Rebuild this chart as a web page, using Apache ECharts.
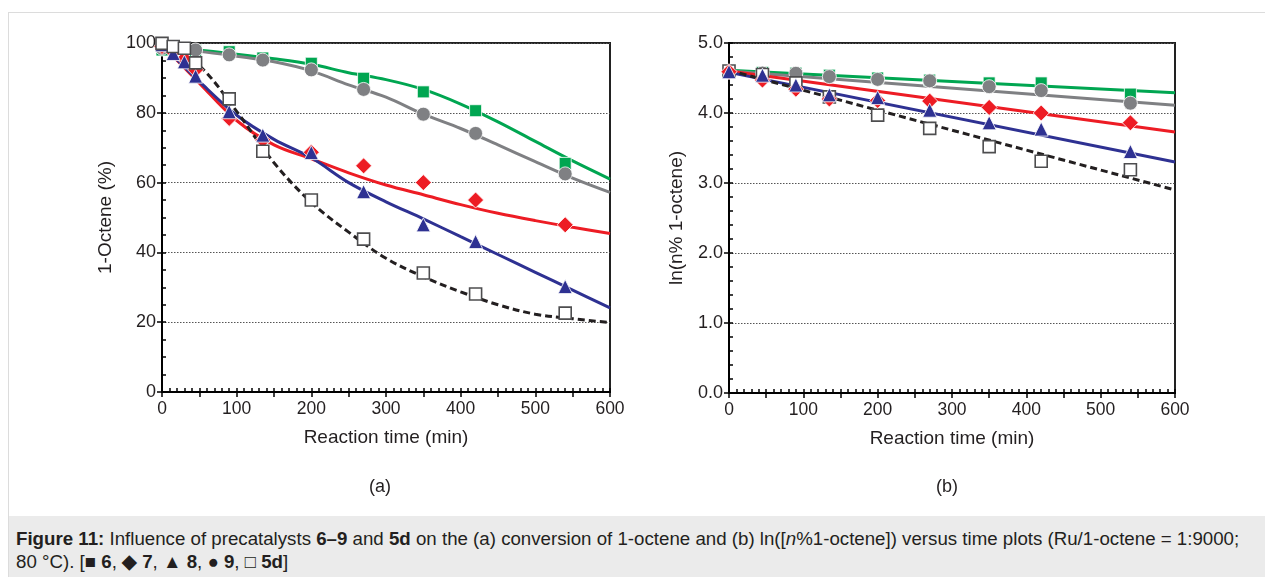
<!DOCTYPE html>
<html>
<head>
<meta charset="utf-8">
<script src="https://cdn.jsdelivr.net/npm/echarts@6/dist/echarts.min.js"></script>
<style>
  html, body { margin: 0; padding: 0; background: #ffffff; }
  #frame { position: absolute; left: 8px; top: 12px; width: 1270px; height: 570px; border: 1px solid #dcdcdc; box-sizing: border-box; }
  #chart { position: absolute; left: 0; top: 0; width: 1265px; height: 577px; }
  #caption { position: absolute; left: 9px; top: 516px; width: 1260px; height: 70px; background: #ebebeb;
    font-family: "Liberation Sans", Arial, sans-serif; font-size: 18.7px; color: #231f20; line-height: 23px;
    padding: 11px 0 0 7px; box-sizing: border-box; white-space: nowrap; }
</style>
</head>
<body>
<div id="frame"></div>
<div id="chart"></div>
<div id="caption"><b>Figure 11:</b> Influence of precatalysts <b>6–9</b> and <b>5d</b> on the (a) conversion of 1-octene and (b) ln([<i>n</i>%1-octene]) versus time plots (Ru/1-octene = 1:9000;<br>80 °C). [<b>■ 6</b>, <b>◆ 7</b>, <b>▲ 8</b>, <b>● 9</b>, <b>□ 5d</b>]</div>
<script>
// ---------- (a) conversion data ----------
const timesA = [0, 15, 30, 45, 90, 135, 200, 270, 350, 420, 540];
const a_cat6  = [98.0, null, null, 97.8, 97.5, 95.7, 94.2, 89.9, 86.0, 80.6, 65.5];
const a_cat7  = [99.0, 97.5, 95.5, 92.3, 78.4, 72.2, 68.7, 64.8, 60.0, 55.0, 47.9];
const a_cat8  = [99.5, 97.0, 94.6, 90.5, 80.3, 73.6, 68.6, 57.4, 47.9, 43.1, 30.2];
const a_cat9  = [98.5, null, null, 98.0, 96.6, 95.1, 92.3, 86.7, 79.6, 74.1, 62.5];
const a_cat5d = [99.9, 99.0, 98.5, 94.3, 84.0, 69.0, 55.0, 43.8, 34.1, 28.1, 22.6];

// fitted curves
const curveT = [0, 50, 100, 150, 200, 250, 300, 350, 400, 450, 500, 550, 600];
const a_fit6  = [98.5, 97.9, 96.8, 95.5, 93.9, 91.5, 89.5, 86.7, 82.5, 77.4, 71.8, 66.2, 61.0];
const a_fit7  = [99.5, 88.5, 77.8, 70.8, 66.8, 62.8, 59.3, 56.5, 53.7, 51.2, 49.1, 47.2, 45.4];
const a_fit8  = [99.5, 89.0, 79.3, 72.4, 67.1, 60.0, 54.5, 49.6, 44.5, 39.4, 34.3, 29.2, 24.1];
const a_fit9  = [98.5, 97.6, 96.2, 94.6, 92.0, 88.0, 84.5, 79.6, 75.5, 70.8, 66.0, 61.3, 57.2];
const a_fit5d = [100.0, 93.5, 80.4, 65.7, 54.3, 45.8, 38.3, 33.0, 28.7, 25.0, 22.3, 21.0, 19.9];

// ---------- (b) ln data ----------
const timesB = [0, 45, 90, 135, 200, 270, 350, 420, 540];
const b_cat6  = [4.60, 4.58, 4.57, 4.54, 4.50, 4.47, 4.43, 4.43, 4.27];
const b_cat7  = [4.59, 4.47, 4.34, 4.20, 4.18, 4.17, 4.08, 4.00, 3.86];
const b_cat8  = [4.59, 4.54, 4.40, 4.26, 4.22, 4.04, 3.86, 3.77, 3.45];
const b_cat9  = [4.59, 4.57, 4.567, 4.52, 4.48, 4.46, 4.376, 4.32, 4.14];
const b_cat5d = [4.60, 4.55, 4.43, 4.23, 3.97, 3.78, 3.52, 3.31, 3.19];

const lineT = [0, 600];
const b_fit6  = [4.61, 4.29];
const b_fit7  = [4.60, 3.73];
const b_fit8  = [4.58, 3.30];
const b_fit9  = [4.60, 4.11];
const b_fit5d = [4.61, 2.90];

const yTicksA = [0, 20, 40, 60, 80, 100];
const yTicksB = ['0.0', '1.0', '2.0', '3.0', '4.0', '5.0'];
const xTicks = [0, 100, 200, 300, 400, 500, 600];

// ---------- styling ----------
const GREEN = '#00a651', RED = '#ed1c24', BLUE = '#2e3192', GRAY = '#7f8083', BLACK = '#231f20';
const FONT = '"Liberation Sans", Arial, sans-serif';

function pairs(t, v) { const out = []; for (let i = 0; i < t.length; i++) if (v[i] !== null) out.push([t[i], v[i]]); return out; }

function curve(idx, t, v, color, dashed, smooth) {
  return { type: 'line', xAxisIndex: idx, yAxisIndex: idx, data: pairs(t, v), showSymbol: false, symbol: 'none',
    smooth: smooth ? 0.35 : false, silent: true, z: 2,
    lineStyle: { color: color, width: 3, type: dashed ? [7, 4] : 'solid', cap: 'butt' } };
}
function marks(idx, t, v, symbol, size, color, open, z) {
  return { type: 'scatter', xAxisIndex: idx, yAxisIndex: idx, data: pairs(t, v), symbol: symbol, symbolSize: size, z: z,
    itemStyle: open ? { color: '#ffffff', borderColor: '#4d4d4f', borderWidth: 1.6, opacity: 1 }
                    : { color: color, borderColor: '#ffffff', borderWidth: 0.8, opacity: 1 } };
}

const TICK = { color: '#000', width: 1.5 };
function xAxisMain(idx) {
  return { type: 'value', gridIndex: idx, position: 'bottom', min: 0, max: 600, interval: 50,
    name: 'Reaction time (min)', nameLocation: 'middle', nameGap: 36,
    nameTextStyle: { fontFamily: FONT, fontSize: 19, color: BLACK },
    axisLine: { show: true, onZero: false, lineStyle: { color: '#000', width: 2 } },
    axisTick: { show: true, inside: false, length: 5, lineStyle: TICK },
    minorTick: { show: false },
    axisLabel: { fontFamily: FONT, fontSize: 17.5, color: BLACK, margin: 8, formatter: v => xTicks.indexOf(v) >= 0 ? String(v) : '' },
    splitLine: { show: false } };
}
function xAxisInner(idx) {
  return { type: 'value', gridIndex: idx, position: 'bottom', min: 0, max: 600, interval: 50,
    axisLine: { show: false, onZero: false }, axisLabel: { show: false }, splitLine: { show: false },
    axisTick: { show: true, inside: true, length: 4, lineStyle: TICK },
    minorTick: { show: true, splitNumber: 5, length: 4, lineStyle: TICK } };
}
function yAxisInner(idx, max, interval, split) {
  return { type: 'value', gridIndex: idx, position: 'left', min: 0, max: max, interval: interval,
    axisLine: { show: false, onZero: false }, axisLabel: { show: false }, splitLine: { show: false },
    axisTick: { show: true, inside: true, length: 4, lineStyle: TICK },
    minorTick: { show: true, splitNumber: split, length: 4, lineStyle: TICK } };
}

const option = {
  animation: false,
  backgroundColor: 'transparent',
  title: [
    { text: '(a)', left: 375, top: 473, textAlign: 'center', textStyle: { fontFamily: FONT, fontSize: 18, fontWeight: 'normal', color: BLACK } },
    { text: '(b)', left: 942, top: 473, textAlign: 'center', textStyle: { fontFamily: FONT, fontSize: 18, fontWeight: 'normal', color: BLACK } }
  ],
  grid: [
    { left: 162, top: 43, width: 448, height: 349, show: true, borderColor: '#222', borderWidth: 2, backgroundColor: 'transparent' },
    { left: 729, top: 43, width: 446, height: 350, show: true, borderColor: '#222', borderWidth: 2, backgroundColor: 'transparent' }
  ],
  xAxis: [xAxisMain(0), xAxisMain(1), xAxisInner(0), xAxisInner(1)],
  yAxis: [
    { type: 'value', gridIndex: 0, position: 'left', min: 0, max: 100, interval: 20,
      name: '1-Octene (%)', nameLocation: 'middle', nameGap: 47, nameRotate: 90,
      nameTextStyle: { fontFamily: FONT, fontSize: 19, color: BLACK },
      axisLine: { show: true, onZero: false, lineStyle: { color: '#000', width: 2 } },
      axisTick: { show: true, inside: false, length: 5, lineStyle: TICK },
      minorTick: { show: false },
      axisLabel: { fontFamily: FONT, fontSize: 18, color: BLACK, margin: 6, formatter: v => yTicksA.indexOf(v) >= 0 ? String(v) : '' },
      splitLine: { show: true, lineStyle: { color: '#555', width: 1, type: [1.5, 1.5] } } },
    { type: 'value', gridIndex: 1, position: 'left', min: 0, max: 5, interval: 1,
      name: 'ln(n% 1-octene)', nameLocation: 'middle', nameGap: 43, nameRotate: 90,
      nameTextStyle: { fontFamily: FONT, fontSize: 19, color: BLACK },
      axisLine: { show: true, onZero: false, lineStyle: { color: '#000', width: 2 } },
      axisTick: { show: true, inside: false, length: 5, lineStyle: TICK },
      minorTick: { show: false },
      axisLabel: { fontFamily: FONT, fontSize: 18, color: BLACK, margin: 6, formatter: v => yTicksB[Math.round(v)] },
      splitLine: { show: true, lineStyle: { color: '#555', width: 1, type: [1.5, 1.5] } } },
    yAxisInner(0, 100, 20, 4),
    yAxisInner(1, 5, 1, 5)
  ],
  series: [
    curve(0, curveT, a_fit6, GREEN, false, true),
    curve(0, curveT, a_fit9, GRAY, false, true),
    curve(0, curveT, a_fit7, RED, false, true),
    curve(0, curveT, a_fit8, BLUE, false, true),
    curve(0, curveT, a_fit5d, BLACK, true, true),
    marks(0, timesA, a_cat6, 'rect', 12, GREEN, false, 3),
    marks(0, timesA, a_cat9, 'circle', 14, GRAY, false, 4),
    marks(0, timesA, a_cat7, 'diamond', 16, RED, false, 5),
    marks(0, timesA, a_cat8, 'triangle', 14, BLUE, false, 6),
    marks(0, timesA, a_cat5d, 'rect', 12, null, true, 7),

    curve(1, lineT, b_fit6, GREEN, false, false),
    curve(1, lineT, b_fit9, GRAY, false, false),
    curve(1, lineT, b_fit7, RED, false, false),
    curve(1, lineT, b_fit8, BLUE, false, false),
    curve(1, lineT, b_fit5d, BLACK, true, false),
    marks(1, timesB, b_cat6, 'rect', 12, GREEN, false, 3),
    marks(1, timesB, b_cat9, 'circle', 14, GRAY, false, 4),
    marks(1, timesB, b_cat5d, 'rect', 12, null, true, 5),
    marks(1, timesB, b_cat7, 'diamond', 16, RED, false, 6),
    marks(1, timesB, b_cat8, 'triangle', 14, BLUE, false, 7)
  ]
};

const chart = echarts.init(document.getElementById('chart'), null, { renderer: 'canvas' });
chart.setOption(option);
</script>
</body>
</html>
